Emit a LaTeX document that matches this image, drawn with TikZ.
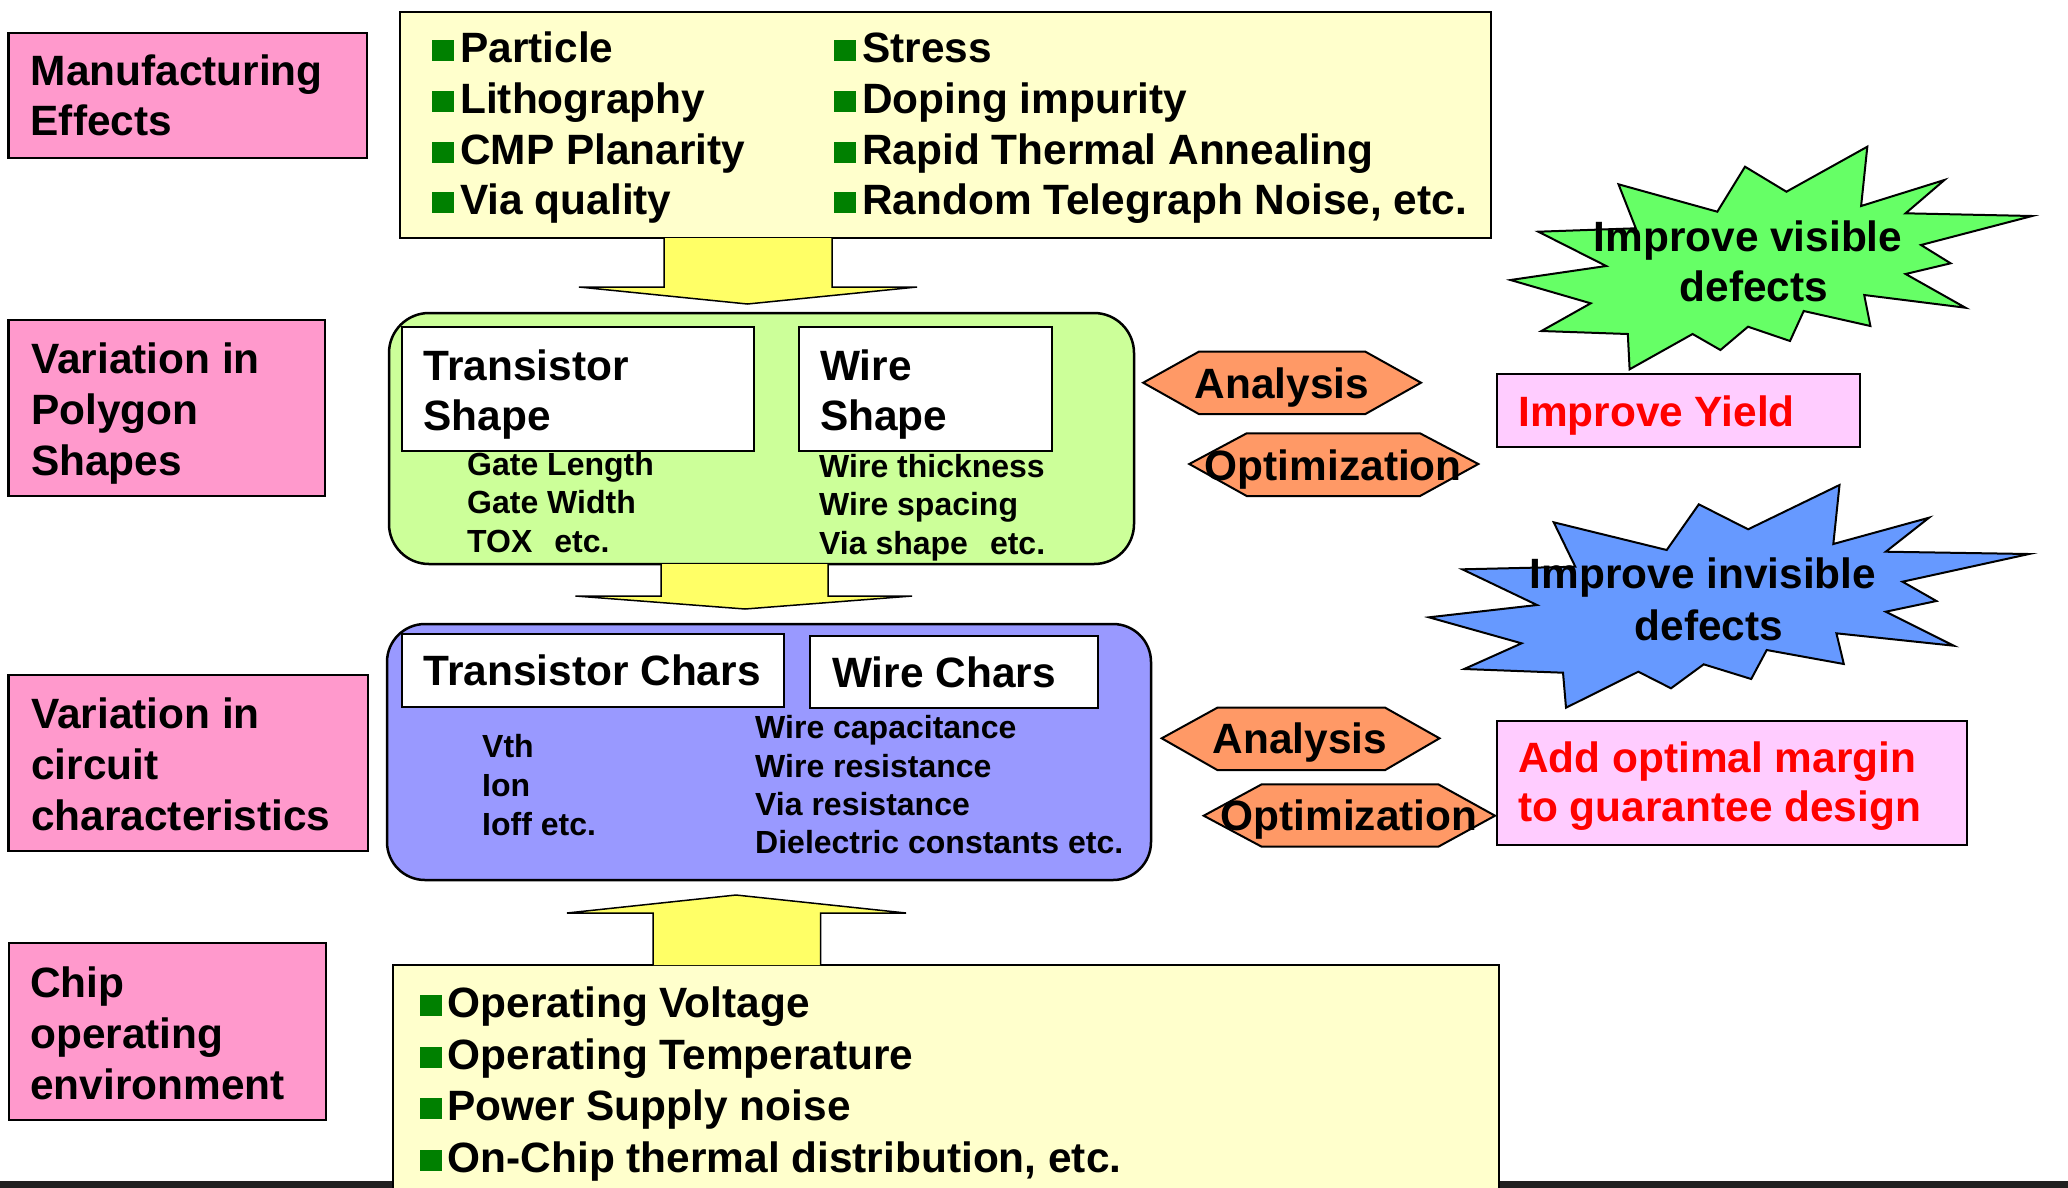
\documentclass[tikz,border=0pt]{standalone}
\usepackage{fontspec}
\setmainfont{Liberation Sans}

\definecolor{pinkfill}{HTML}{FF99CC}
\definecolor{paleyellow}{HTML}{FFFFCC}
\definecolor{limefill}{HTML}{CCFF99}
\definecolor{periwinkle}{HTML}{9999FF}
\definecolor{arrowyellow}{HTML}{FFFF66}
\definecolor{salmonfill}{HTML}{FF9966}
\definecolor{stargreen}{HTML}{66FF66}
\definecolor{starblue}{HTML}{6699FF}
\definecolor{lightpink}{HTML}{FFCCFF}
\definecolor{bulletgreen}{HTML}{008000}
\definecolor{alertred}{HTML}{FF0000}
\definecolor{barcolor}{HTML}{202020}

\newcommand{\diagbig}{\fontsize{42.4}{50}\selectfont\bfseries}
\newcommand{\diagsmall}{\fontsize{32}{38}\selectfont\bfseries}
\newcommand{\sqbullet}{{\color{bulletgreen}\rule[1pt]{22pt}{21pt}}\hspace{6pt}}

\begin{document}
\begin{tikzpicture}[x=1pt,y=-1pt,
  box/.style={draw=black, line width=2.5pt, rectangle, inner sep=0pt},
  pinkbox/.style={box, fill=pinkfill},
  listbox/.style={box, fill=paleyellow},
  whitebox/.style={box, fill=white},
  goalbox/.style={box, fill=lightpink},
  roundbox/.style={box, rounded corners=40pt},
  blockarrow/.style={draw=black, line width=1.5pt, fill=arrowyellow, line join=miter},
  hexbox/.style={draw=black, line width=2pt, fill=salmonfill, line join=miter},
  burst/.style={draw=black, line width=2pt, line join=miter},
  bigtext/.style={font=\diagbig, anchor=base west, inner sep=0pt},
  smalltext/.style={font=\diagsmall, anchor=base west, inner sep=0pt},
  midtext/.style={font=\diagbig, anchor=base, inner sep=0pt},
  redtext/.style={bigtext, text=alertred}
]
\useasboundingbox (0,0) rectangle (2068,1187);
\fill[white] (0,0) rectangle (2068,1187);

% bottom bar
\fill[barcolor] (0,1181) rectangle (2068,1190);

% ---------- left column labels ----------
\node[pinkbox, minimum width=358.7, minimum height=125] (mfg) at (187.6,95.5) {};
\node[bigtext] (mfg1) at (30.5,85) {Manufacturing};
\node[bigtext] (mfg2) at (30.5,135) {Effects};

\node[pinkbox, minimum width=316.7, minimum height=176] (poly) at (166.7,408) {};
\node[bigtext] (poly1) at (31,373) {Variation in};
\node[bigtext] (poly2) at (31,424) {Polygon};
\node[bigtext] (poly3) at (31,475) {Shapes};

\node[pinkbox, minimum width=359.7, minimum height=176] (circ) at (188.2,763) {};
\node[bigtext] (circ1) at (31,728) {Variation in};
\node[bigtext] (circ2) at (31,779) {circuit};
\node[bigtext] (circ3) at (31,830) {characteristics};

\node[pinkbox, minimum width=317, minimum height=177] (chip) at (167.5,1031.5) {};
\node[bigtext] (chip1) at (30,997) {Chip};
\node[bigtext] (chip2) at (30,1048) {operating};
\node[bigtext] (chip3) at (30,1099) {environment};

% ---------- manufacturing effects list ----------
\node[listbox, minimum width=1091, minimum height=226] (effects) at (945.5,125) {};
\node[bigtext] (ef1) at (432,62) {\sqbullet Particle};
\node[bigtext] (ef2) at (432,113) {\sqbullet Lithography};
\node[bigtext] (ef3) at (432,164) {\sqbullet CMP Planarity};
\node[bigtext] (ef4) at (432,214) {\sqbullet Via quality};
\node[bigtext] (ef5) at (834,62) {\sqbullet Stress};
\node[bigtext] (ef6) at (834,113) {\sqbullet Doping impurity};
\node[bigtext] (ef7) at (834,164) {\sqbullet Rapid Thermal Annealing};
\node[bigtext] (ef8) at (834,214) {\sqbullet Random Telegraph Noise, etc.};

% ---------- polygon shape variation ----------
\node[roundbox, fill=limefill, minimum width=745, minimum height=251] (shapes) at (761.5,438.5) {};
\node[whitebox, minimum width=352, minimum height=124] (tshape) at (578,389) {};
\node[bigtext] (tshape1) at (423.5,380) {Transistor};
\node[bigtext] (tshape2) at (423.5,430) {Shape};
\node[whitebox, minimum width=253, minimum height=124] (wshape) at (925.5,389) {};
\node[bigtext] (wshape1) at (820,380) {Wire};
\node[bigtext] (wshape2) at (820,430) {Shape};
\node[smalltext] (ts1) at (467,475) {Gate Length};
\node[smalltext] (ts2) at (467,513.5) {Gate Width};
\node[smalltext] (ts3) at (467,552) {TOX\hspace{22pt}etc.};
\node[smalltext] (ws1) at (819,477) {Wire thickness};
\node[smalltext] (ws2) at (819,515.5) {Wire spacing};
\node[smalltext] (ws3) at (819,554) {Via shape\hspace{22pt}etc.};

% ---------- circuit characteristics ----------
\node[roundbox, fill=periwinkle, minimum width=764, minimum height=256, rounded corners=38pt] (chars) at (769,752) {};
\node[whitebox, minimum width=382, minimum height=73] (tchars) at (593,670.5) {};
\node[bigtext] (tchars1) at (423.5,685) {Transistor Chars};
\node[whitebox, minimum width=288, minimum height=72] (wchars) at (954,672) {};
\node[bigtext] (wchars1) at (832,687) {Wire Chars};
\node[smalltext] (tc1) at (482,757) {Vth};
\node[smalltext] (tc2) at (482,796) {Ion};
\node[smalltext] (tc3) at (482,835) {Ioff etc.};
\node[smalltext] (wc1) at (755,738) {Wire capacitance};
\node[smalltext] (wc2) at (755,777) {Wire resistance};
\node[smalltext] (wc3) at (755,815) {Via resistance};
\node[smalltext] (wc4) at (755,853) {Dielectric constants etc.};

% ---------- operating environment list ----------
\node[listbox, minimum width=1106, minimum height=240] (env) at (946,1085) {};
\node[bigtext] (en1) at (419.5,1017) {\sqbullet Operating Voltage};
\node[bigtext] (en2) at (419.5,1069) {\sqbullet Operating Temperature};
\node[bigtext] (en3) at (419.5,1120) {\sqbullet Power Supply noise};
\node[bigtext] (en4) at (419.5,1172) {\sqbullet On-Chip thermal distribution, etc.};

% ---------- block arrows between the stages ----------
\draw[blockarrow] (664,238) -- (664,287) -- (579,287) -- (747.5,304) -- (917,287) -- (832,287) -- (832,238);
\draw[blockarrow] (661,564) -- (661,596) -- (575.5,596) -- (745,609) -- (912,596) -- (828,596) -- (828,564);
\draw[blockarrow] (653,965) -- (653,913) -- (567,913) -- (736,895) -- (906,913) -- (820.5,913) -- (820.5,965);

% ---------- analysis / optimization tags ----------
\draw[hexbox] (1143.2,382.7) -- (1198.8,351.7) -- (1365.4,351.7) -- (1421,382.7) -- (1365.4,414) -- (1198.8,414) -- cycle;
\node[midtext] (ana1) at (1282,398) {Analysis};
\draw[hexbox] (1189.3,464) -- (1246.7,433.3) -- (1420,433.3) -- (1478.3,464) -- (1420,496) -- (1246.7,496) -- cycle;
\node[midtext] (opt1) at (1333.3,480.7) {Optimization};
\draw[hexbox] (1161.7,738.3) -- (1217.3,707.7) -- (1385.2,707.7) -- (1439.5,738.3) -- (1385.2,770) -- (1217.3,770) -- cycle;
\node[midtext] (ana2) at (1300,753) {Analysis};
\draw[hexbox] (1203.7,815.7) -- (1261.7,784.3) -- (1438.3,784.3) -- (1495,815.7) -- (1438.3,846.7) -- (1261.7,846.7) -- cycle;
\node[midtext] (opt2) at (1349,830) {Optimization};

% ---------- goals ----------
\draw[burst, fill=stargreen]
  (1867.3,146.7) -- (1861.1,206) -- (1944.4,180) -- (1905.6,213.3) -- (2032.1,216) --
  (1921,245) -- (1950.6,263.3) -- (1905.6,274) -- (1965.4,307.7) -- (1864.2,295) --
  (1870.4,326) -- (1803.7,311) -- (1790,341) -- (1748,326.7) -- (1720.4,350) --
  (1692.6,334) -- (1629.6,369.3) -- (1627.8,334) -- (1541.4,331) -- (1590.7,303.3) --
  (1510.5,280) -- (1606.2,266) -- (1538.3,231.7) -- (1635.8,228.3) -- (1618.5,184.3) --
  (1717.3,211.7) -- (1745,166.7) -- (1786.4,191.7) -- cycle;
\node[midtext] (vis1) at (1748,251.7) {Improve visible};
\node[midtext] (vis2) at (1754,301.7) {defects};

\node[goalbox, minimum width=363, minimum height=73] (yield) at (1678.5,410.5) {};
\node[redtext] (yield1) at (1518,426) {Improve Yield};

\draw[burst, fill=starblue]
  (1839.5,485) -- (1833.3,544) -- (1929,517.7) -- (1885.8,551.7) -- (2029,554) --
  (1902.5,581.7) -- (1936.4,601) -- (1885.8,611.7) -- (1953.7,645.7) -- (1836.4,633.3) --
  (1843.8,664) -- (1766.7,650) -- (1751.2,679) -- (1703.7,664.3) -- (1671,688.3) --
  (1638.3,671.7) -- (1566,707.7) -- (1563,672.7) -- (1464.2,669) -- (1521.6,643.3) --
  (1429,617.3) -- (1537,605) -- (1462.3,569.3) -- (1575.3,566.7) -- (1553.7,522.3) --
  (1666.7,550) -- (1698.8,504.3) -- (1748.1,529.3) -- cycle;
\node[midtext] (invis1) at (1703,588) {Improve invisible};
\node[midtext] (invis2) at (1709,640) {defects};

\node[goalbox, minimum width=470, minimum height=124] (margin) at (1732,783) {};
\node[redtext] (margin1) at (1518,772.7) {Add optimal margin};
\node[redtext] (margin2) at (1518,821.7) {to guarantee design};
\end{tikzpicture}
\end{document}
